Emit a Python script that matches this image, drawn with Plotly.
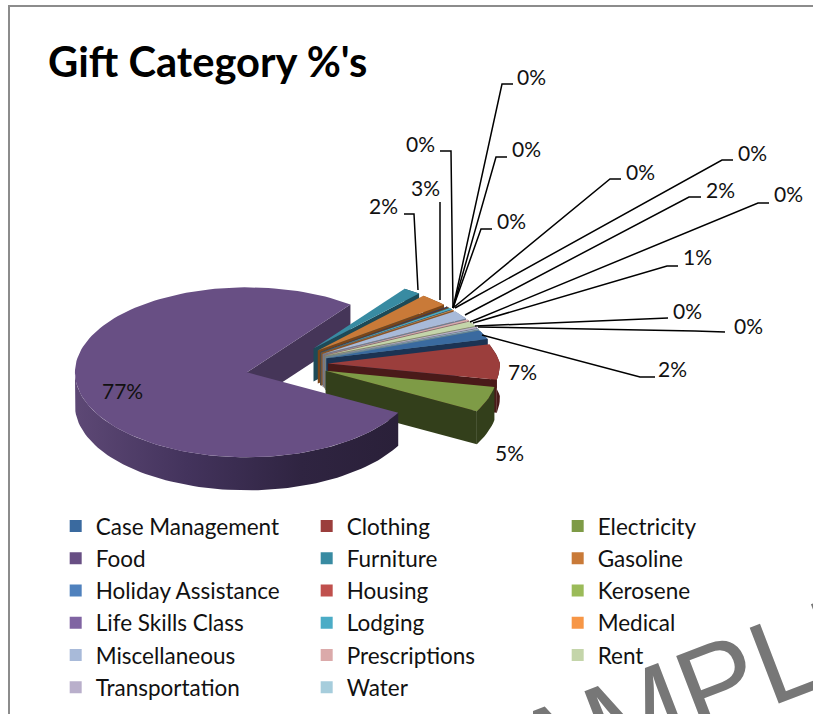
import numpy as np
import plotly.graph_objects as go

# ---- data (legend order, starting with Case Management) ----
categories = ["Case Management", "Clothing", "Electricity", "Food", "Furniture", "Gasoline",
              "Holiday Assistance", "Housing", "Kerosene", "Life Skills Class", "Lodging", "Medical",
              "Miscellaneous", "Prescriptions", "Rent", "Transportation", "Water"]
values = [1.8, 6.8, 4.8, 77.0, 1.8, 2.8, 0.1, 0.1, 0.1, 0.1, 0.3, 0.2, 1.8, 0.3, 1.0, 0.3, 0.2]
top_colors = ["#3a6a9f", "#9b3e3c", "#7e9b46", "#684f84", "#388ba2", "#c97a38", "#4f81bd", "#c0504d",
              "#9bbb59", "#8064a2", "#4bacc6", "#f79646", "#a8bad9", "#dbaaaa", "#c4d5aa", "#b9afcb", "#a6cddc"]
side_colors = ["#1c3353", "#4a1a19", "#333f1b", "#453558", "#1d4a57", "#7a4518", "#2a4566", "#6b2523",
               "#55682f", "#463658", "#2a6070", "#8a5325", "#6f7c92", "#8c6b6b", "#7f8b6d", "#75708a", "#6a8793"]

# ---- layout constants (pixels of the 813x714 page) ----
CX, CY, RX, RY, EXPLODE, DEPTH = 287, 364, 172, 85, 41, 33
FOOD_END_ANGLE = 53.0  # math degrees where Furniture starts, going clockwise
FOOD_DY = 4            # Food's ellipse sits a little lower on the page
FAR_SHRINK = 0.15      # perspective: rims on the far side of the pie are shorter

label_xy = {"Case Management": (672, 368), "Clothing": (522, 371), "Electricity": (509, 452), "Food": (122, 390),
            "Furniture": (383, 205), "Gasoline": (425, 187), "Holiday Assistance": (420, 143), "Housing": (531, 76),
            "Kerosene": (526, 148), "Life Skills Class": (511, 220), "Lodging": (640, 171), "Medical": (752, 152),
            "Miscellaneous": (720, 189), "Prescriptions": (788, 193), "Rent": (697, 256), "Transportation": (687, 310),
            "Water": (748, 325)}
leaders = {"Case Management": [(482, 335), (640, 377), (655, 377)],
           "Furniture": [(418, 290), (414, 214), (404, 214)],
           "Gasoline": [(440, 300), (440, 202)],
           "Holiday Assistance": [(453, 308), (451, 151), (440, 151)],
           "Housing": [(453, 308), (502, 84), (513, 84)],
           "Kerosene": [(453, 308), (496, 157), (507, 157)],
           "Life Skills Class": [(453, 308), (481, 229), (492, 229)],
           "Lodging": [(453, 308), (610, 179), (621, 179)],
           "Medical": [(455, 308), (722, 160), (733, 160)],
           "Miscellaneous": [(465, 315), (689, 197), (701, 197)],
           "Prescriptions": [(470, 322), (758, 203), (769, 203)],
           "Rent": [(473, 323), (667, 266), (678, 266)],
           "Transportation": [(475, 326), (668, 318)],
           "Water": [(478, 327), (695, 331), (725, 332)]}

FONT = "Lato"
vals = np.array(values)
fracs = vals / vals.sum() * 360.0
food_i = categories.index("Food")
order = [(food_i + 1 + k) % len(vals) for k in range(len(vals))]  # clockwise from Furniture, Food last

spans = {}
a = FOOD_END_ANGLE
for i in order:
    spans[i] = (a, a - fracs[i])
    a -= fracs[i]


def arc(i, a0, a1, n=None):
    start, end = spans[i]
    mid = np.radians((start + end) / 2)
    ox = CX + EXPLODE * np.cos(mid)
    oy = CY - EXPLODE * np.sin(mid) * RY / RX
    n = n or max(3, int(abs(a1 - a0) / 2) + 2)
    t = np.radians(np.linspace(a0, a1, n))
    if i == food_i:
        oy += FOOD_DY
        f = np.ones_like(t)
    else:
        f = 1 - FAR_SHRINK * np.clip(np.sin(t), 0, None)
    return ox + RX * f * np.cos(t), oy - RY * f * np.sin(t), ox, oy


def poly(xs, ys, color, **kw):
    return go.Scatter(x=list(xs), y=list(ys), mode="lines", line=dict(width=0), fill="toself",
                      fillcolor=color, hoverinfo="skip", showlegend=False, **kw)


def top_trace(i):
    s, e = spans[i]
    x, y, ox, oy = arc(i, s, e)
    return poly([ox, *x, ox], [oy, *y, oy], top_colors[i])


def wall_trace(i, edge_angle):
    x, y, ox, oy = arc(i, edge_angle, edge_angle, n=1)
    return poly([ox, x[0], x[0], ox, ox], [oy, y[0], y[0] + DEPTH, oy + DEPTH, oy], side_colors[i])


def band_trace(i, a0, a1, **kw):
    x, y, _, _ = arc(i, a0, a1)
    return poly([*x, *x[::-1]], [*y, *(y[::-1] + DEPTH)], side_colors[i], **kw)


fig = go.Figure()

# Food's inner wall sits behind everything
fig.add_trace(wall_trace(food_i, FOOD_END_ANGLE))

# the small slices, back to front
for i in order:
    if i == food_i:
        continue
    s, e = spans[i]
    fig.add_trace(band_trace(i, s, e))
    fig.add_trace(wall_trace(i, e))
    fig.add_trace(top_trace(i))

# Food's outer side and top last
s, e = spans[food_i]
fig.add_trace(band_trace(food_i, s, -180,
                         fillgradient=dict(type="horizontal",
                                           colorscale=[[0, "#5d4875"], [0.35, "#43335c"], [0.7, "#2f2441"],
                                                       [1, "#2a2039"]])))
fig.add_trace(top_trace(food_i))

# legend entries
for name, col in zip(categories, top_colors):
    fig.add_trace(go.Scatter(x=[None], y=[None], mode="markers", name=name,
                             marker=dict(symbol="square", size=13, color=col)))

# data labels
for name, v in zip(categories, vals):
    lx, ly = label_xy[name]
    fig.add_annotation(x=lx, y=ly, text=f"{round(v / vals.sum() * 100):d}%", showarrow=False,
                       font=dict(family=FONT, size=21, color="#111111"))

shapes = [dict(type="rect", x0=9, y0=6, x1=830, y1=730, line=dict(color="#8c8c8c", width=2))]
for pts in leaders.values():
    path = "M " + " L ".join(f"{x},{y}" for x, y in pts)
    shapes.append(dict(type="path", path=path, line=dict(color="#000000", width=1.5)))

fig.add_annotation(x=46, y=61, xanchor="left", text="<b>Gift Category %'s</b>", showarrow=False,
                   font=dict(family=FONT, size=41.7, color="#000000"))
fig.add_annotation(x=666, y=703, text="SAMPLE", textangle=-21, showarrow=False,
                   font=dict(family="Liberation Sans", size=118, color="#777777"))

fig.update_layout(
    width=813, height=714, margin=dict(l=0, r=0, t=0, b=0, autoexpand=False), autosize=False,
    paper_bgcolor="white", plot_bgcolor="white", shapes=shapes,
    xaxis=dict(range=[0, 813], visible=False, fixedrange=True),
    yaxis=dict(range=[714, 0], visible=False, fixedrange=True),
    legend=dict(orientation="h", x=0.0685, y=0.293, xanchor="left", yanchor="top",
                entrywidth=206, entrywidthmode="pixels", itemsizing="constant", itemwidth=30,
                font=dict(family=FONT, size=22.5, color="#111111"), bgcolor="rgba(0,0,0,0)", tracegroupgap=0),
)
fig.write_html("out.html", config={"displayModeBar": False}, post_script="document.body.style.margin='0';")
